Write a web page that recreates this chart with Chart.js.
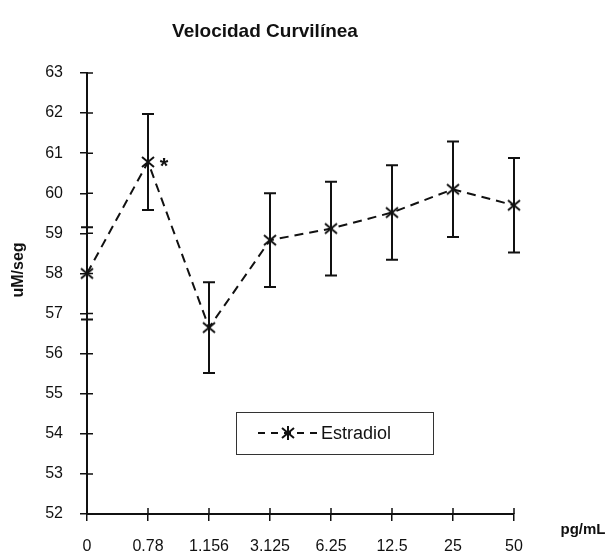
<!DOCTYPE html>
<html>
<head>
<meta charset="utf-8">
<script src="https://cdn.jsdelivr.net/npm/chart.js@4.4.0/dist/chart.umd.min.js"></script>
<style>
  html, body { margin: 0; padding: 0; background: #fff; }
</style>
</head>
<body>
<canvas id="chart" width="612" height="556"></canvas>
<script>
// dose of estradiol (pg/mL) and curvilinear velocity (uM/seg)
const doses = ['0', '0.78', '1.156', '3.125', '6.25', '12.5', '25', '50'];
const meanSpeed = [58.0, 60.78, 56.65, 58.83, 59.12, 59.52, 60.1, 59.7];
const errSpeed = [1.15, 1.2, 1.13, 1.17, 1.17, 1.18, 1.19, 1.18];
const yMin = 52;
const yMax = 63;
const starredDose = '0.78';

const FONT = "'Liberation Sans', Arial, sans-serif";
const INK = '#111';

// excel style "*" marker: an X with a vertical bar
function makeMarker() {
  const c = document.createElement('canvas');
  c.width = 16; c.height = 16;
  const g = c.getContext('2d');
  g.strokeStyle = INK;
  g.lineWidth = 2;
  g.beginPath();
  g.moveTo(2, 3); g.lineTo(14, 13);
  g.moveTo(2, 13); g.lineTo(14, 3);
  g.moveTo(8, 1); g.lineTo(8, 15);
  g.stroke();
  return c;
}
const marker = makeMarker();

const extras = {
  id: 'extras',
  beforeDatasetsDraw(chart) {
    const { ctx, scales: { x, y } } = chart;
    ctx.save();
    ctx.strokeStyle = INK;
    ctx.lineWidth = 2;
    meanSpeed.forEach((v, i) => {
      const px = x.getPixelForValue(i);
      const top = y.getPixelForValue(v + errSpeed[i]);
      const bot = y.getPixelForValue(v - errSpeed[i]);
      ctx.beginPath();
      ctx.moveTo(px, top); ctx.lineTo(px, bot);
      ctx.moveTo(px - 6, top); ctx.lineTo(px + 6, top);
      ctx.moveTo(px - 6, bot); ctx.lineTo(px + 6, bot);
      ctx.stroke();
    });
    ctx.restore();
  },
  afterDraw(chart) {
    const { ctx, chartArea: a, scales: { x, y } } = chart;
    ctx.save();

    // tick marks also go inside the plot
    ctx.strokeStyle = INK;
    ctx.lineWidth = 1.5;
    ctx.beginPath();
    y.ticks.forEach((t, i) => {
      const py = y.getPixelForTick(i);
      ctx.moveTo(a.left, py); ctx.lineTo(a.left + 6, py);
    });
    x.ticks.forEach((t, i) => {
      const px = x.getPixelForTick(i);
      ctx.moveTo(px, a.bottom); ctx.lineTo(px, a.bottom - 6);
    });
    ctx.stroke();

    ctx.fillStyle = INK;

    // significance mark
    const si = doses.indexOf(starredDose);
    ctx.font = 'bold 22px ' + FONT;
    ctx.textAlign = 'center';
    ctx.textBaseline = 'middle';
    ctx.fillText('*', x.getPixelForValue(si) + 16, y.getPixelForValue(meanSpeed[si]) + 5);

    // y axis title
    ctx.save();
    ctx.translate(19, 270);
    ctx.rotate(-Math.PI / 2);
    ctx.font = 'bold 16px ' + FONT;
    ctx.fillText('uM/seg', 0, 0);
    ctx.restore();

    // x axis unit
    ctx.font = 'bold 15px ' + FONT;
    ctx.fillText('pg/mL', 583, 530);

    // legend
    const lx = 236, ly = 412, lw = 197, lh = 42, my = ly + lh / 2;
    ctx.lineWidth = 1;
    ctx.strokeStyle = '#333';
    ctx.strokeRect(lx + 0.5, ly + 0.5, lw, lh);
    ctx.lineWidth = 2;
    ctx.strokeStyle = INK;
    ctx.setLineDash([7, 6]);
    ctx.beginPath();
    ctx.moveTo(258, my); ctx.lineTo(318, my);
    ctx.stroke();
    ctx.setLineDash([]);
    ctx.drawImage(marker, 288 - 8, my - 8);
    ctx.font = '18px ' + FONT;
    ctx.textAlign = 'left';
    ctx.fillText(chart.data.datasets[0].label, 321, my + 1);

    ctx.restore();
  }
};

new Chart(document.getElementById('chart'), {
  type: 'line',
  data: {
    labels: doses,
    datasets: [{
      label: 'Estradiol',
      data: meanSpeed,
      borderColor: INK,
      borderWidth: 2,
      borderDash: [9, 6],
      tension: 0,
      fill: false,
      pointStyle: marker,
      pointRadius: 8,
      pointHoverRadius: 8,
      clip: false
    }]
  },
  options: {
    responsive: false,
    animation: false,
    devicePixelRatio: 1,
    layout: { padding: { left: 16, right: 98, top: 0, bottom: 0 } },
    plugins: {
      legend: { display: false },
      tooltip: { enabled: false },
      title: {
        display: true,
        text: 'Velocidad Curvilínea',
        color: INK,
        font: { family: FONT, size: 19, weight: 'bold' },
        padding: { top: 20.6, bottom: 29.6 }
      }
    },
    scales: {
      x: {
        offset: false,
        afterFit(scale) { scale.height = 42; },
        grid: { drawOnChartArea: false, tickLength: 7, color: INK, lineWidth: 1.5 },
        border: { color: INK, width: 2 },
        ticks: { color: INK, padding: 16, maxRotation: 0, autoSkip: false, font: { family: FONT, size: 16 } }
      },
      y: {
        min: yMin,
        max: yMax,
        afterFit(scale) { scale.width = 71; },
        grid: { drawOnChartArea: false, tickLength: 7, color: INK, lineWidth: 1.5 },
        border: { color: INK, width: 2 },
        ticks: { stepSize: 1, color: INK, padding: 17, font: { family: FONT, size: 16 } }
      }
    }
  },
  plugins: [extras]
});
</script>
</body>
</html>
